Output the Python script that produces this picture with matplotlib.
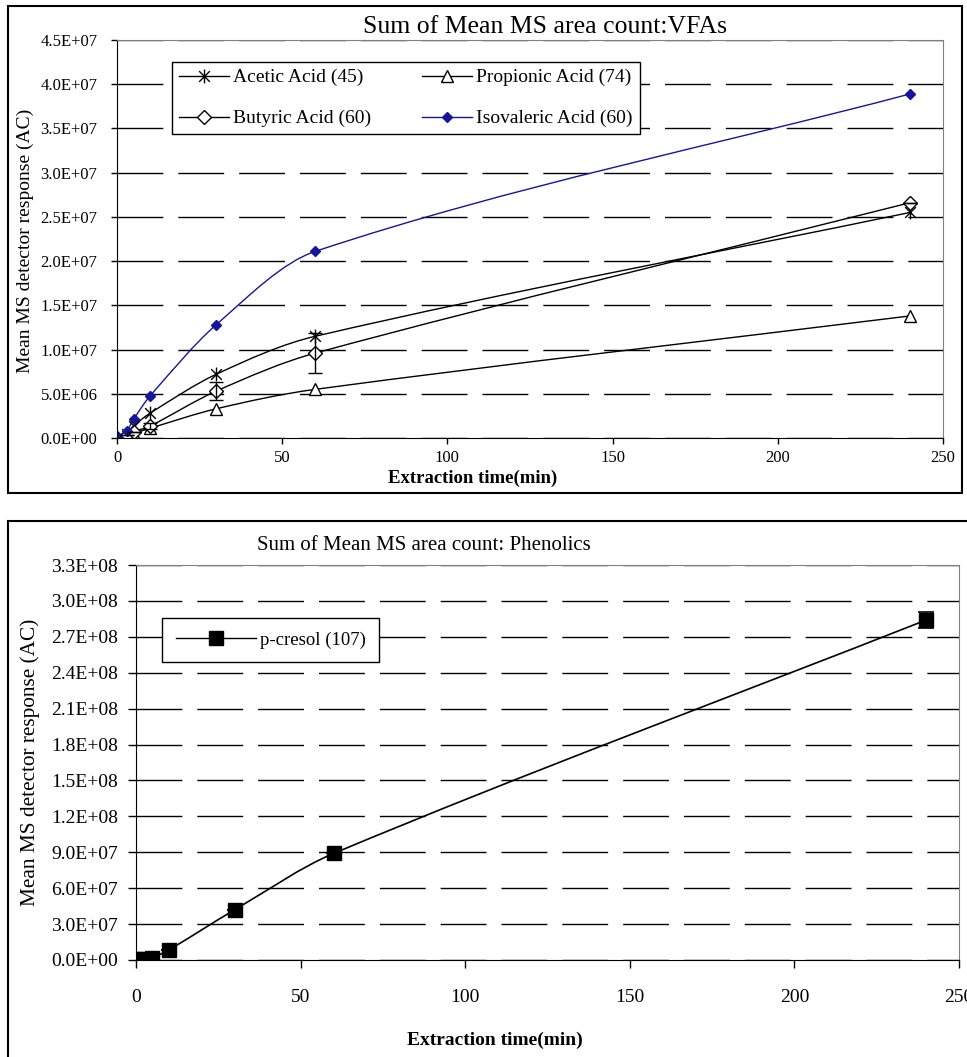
import numpy as np
import matplotlib
matplotlib.use("Agg")
import matplotlib.pyplot as plt
from matplotlib.path import Path
from matplotlib.patches import PathPatch, Rectangle
from matplotlib.lines import Line2D
from matplotlib.ticker import FuncFormatter

plt.rcParams['font.family'] = ['Liberation Serif', 'DejaVu Serif']

# top chart: VFAs
times_vfa = [0, 3, 5, 10, 30, 60, 240]
acetic = [0.0e6, 0.5e6, 1.35e6, 2.8e6, 7.2e6, 11.5e6, 25.5e6]
propionic = [0.0e6, 0.2e6, 0.5e6, 1.1e6, 3.3e6, 5.5e6, 13.8e6]
butyric = [0.0e6, 0.3e6, 0.7e6, 1.35e6, 5.3e6, 9.6e6, 26.6e6]
butyric_err = [0, 0, 0, 0.3e6, 1.0e6, 2.3e6, 0]
isovaleric = [0.1e6, 0.8e6, 2.1e6, 4.75e6, 12.8e6, 21.1e6, 38.9e6]
vfa_labels = ['Acetic Acid (45)', 'Propionic Acid (74)', 'Butyric Acid (60)', 'Isovaleric Acid (60)']

# bottom chart: phenolics
times_ph = [0, 2, 5, 10, 30, 60, 240]
pcresol = [0.5e6, 1.0e6, 2.0e6, 8.5e6, 42e6, 89e6, 284e6]
pcresol_err = [0, 0, 0, 0, 0, 0, 7e6]

xticks = [0, 50, 100, 150, 200, 250]
W, H = 967, 1057


def smooth_path(x, y):
    # excel-like smoothed line as cubic bezier through the points
    x = np.asarray(x, float)
    y = np.asarray(y, float)
    n = len(x)
    m = np.empty(n)
    m[0] = (y[1] - y[0]) / (x[1] - x[0])
    m[-1] = (y[-1] - y[-2]) / (x[-1] - x[-2])
    m[1:-1] = (y[2:] - y[:-2]) / (x[2:] - x[:-2])
    verts = [(x[0], y[0])]
    codes = [Path.MOVETO]
    for i in range(n - 1):
        h = x[i + 1] - x[i]
        verts += [(x[i] + h / 3, y[i] + m[i] * h / 3),
                  (x[i + 1] - h / 3, y[i + 1] - m[i + 1] * h / 3),
                  (x[i + 1], y[i + 1])]
        codes += [Path.CURVE4] * 3
    return Path(verts, codes)


def px_axes(l, t, r, b):
    return [l / W, 1 - b / H, (r - l) / W, (b - t) / H]


def style_axes(ax, fs, ticklen, ypad, xpad):
    ax.set_axisbelow(True)
    ax.yaxis.grid(True, color='black', lw=1, linestyle=(0, (33, 10.8)))
    for s in ['top', 'right']:
        ax.spines[s].set_color('#808080')
    for s in ['left', 'bottom']:
        ax.spines[s].set_color('black')
    ax.tick_params(direction='out', length=ticklen, labelsize=fs, width=1)
    ax.tick_params(axis='y', pad=ypad)
    ax.tick_params(axis='x', pad=xpad)
    ax.yaxis.set_major_formatter(FuncFormatter(lambda v, p: f"{v:.1E}"))


fig = plt.figure(figsize=(W / 100, H / 100), dpi=100)

# panel frames
fig.add_artist(Rectangle((8 / W, 1 - 493 / H), 954 / W, 487 / H, transform=fig.transFigure,
                         fill=False, lw=1.5, ec='black'))
fig.add_artist(Rectangle((8 / W, -0.02), 1.0, 1 - 521 / H + 0.02, transform=fig.transFigure,
                         fill=False, lw=1.5, ec='black', clip_on=False))

# ---- top
ax1 = fig.add_axes(px_axes(117, 40, 943, 438))
ax1.set_xlim(0, 250)
ax1.set_ylim(0, 4.5e7)
ax1.set_xticks(xticks)
ax1.set_yticks(np.arange(0, 4.51e7, 5e6))
style_axes(ax1, 12, 4, 10, 5)

star = Path([(-1, -1), (1, 1), (-1, 1), (1, -1), (0, -1.3), (0, 1.3)],
            [Path.MOVETO, Path.LINETO] * 3)
series = [
    (acetic, 'black', dict(marker=star, ms=10, mfc='black', mec='black', mew=1)),
    (propionic, 'black', dict(marker='^', ms=8, mfc='white', mec='black', mew=1)),
    (butyric, 'black', dict(marker='D', ms=7, mfc='white', mec='black', mew=1)),
    (isovaleric, '#16169c', dict(marker='D', ms=5, mfc='#16169c', mec='#16169c', mew=1)),
]
handles = []
for vals, col, mk in series:
    ax1.add_patch(PathPatch(smooth_path(times_vfa, vals), fill=False, ec=col, lw=1))
    ax1.plot(times_vfa, vals, ls='none', **mk)
    handles.append(Line2D([], [], color=col, lw=1, **mk))
ax1.errorbar(times_vfa, butyric, yerr=butyric_err, fmt='none', ecolor='black',
             elinewidth=1, capsize=5, capthick=1)
# legend fills column-first, so order for rows: acetic/propionic, butyric/isovaleric
order = [0, 2, 1, 3]
leg1 = ax1.legend([handles[i] for i in order], [vfa_labels[i] for i in order], ncol=2,
                  loc='upper left', bbox_to_anchor=(0.0666, 0.9447),
                  fontsize=14, frameon=True, fancybox=False, edgecolor='black', framealpha=1,
                  handlelength=2.6, columnspacing=2.6, borderpad=0.35, labelspacing=1.2,
                  handletextpad=0.2, borderaxespad=0)
leg1.get_frame().set_linewidth(1)

fig.text(545 / W, 1 - 27 / H, 'Sum of Mean MS area count:VFAs', ha='center', va='center',
         fontsize=18.5)
fig.text(473 / W, 1 - 478 / H, 'Extraction time(min)', ha='center', va='center',
         fontsize=13.5, fontweight='bold')
fig.text(25 / W, 1 - 241 / H, 'Mean MS detector response (AC)', ha='center', va='center',
         rotation=90, fontsize=14)

# ---- bottom
ax2 = fig.add_axes(px_axes(136, 565, 959, 960))
ax2.set_xlim(0, 250)
ax2.set_ylim(0, 3.3e8)
ax2.set_xticks(xticks)
ax2.set_yticks(np.arange(0, 3.31e8, 3e7))
style_axes(ax2, 14, 6, 7, 15)

ax2.add_patch(PathPatch(smooth_path(times_ph, pcresol), fill=False, ec='black', lw=1.2))
sq = dict(marker='s', ms=9.5, mfc='black', mec='black')
ax2.plot(times_ph, pcresol, ls='none', **sq)
ax2.errorbar(times_ph, pcresol, yerr=pcresol_err, fmt='none', ecolor='black',
             elinewidth=1.2, capsize=5.5, capthick=1.2)
leg2 = ax2.legend([Line2D([], [], color='black', lw=1, **sq)], ['p-cresol (107)'],
                  loc='upper left', bbox_to_anchor=(0.0316, 0.866), fontsize=13.5,
                  frameon=True, fancybox=False, edgecolor='black', framealpha=1,
                  handlelength=4.3, borderpad=0.72, handletextpad=0.2, borderaxespad=0)
leg2.get_frame().set_linewidth(1)

fig.text(424 / W, 1 - 545 / H, 'Sum of Mean MS area count: Phenolics', ha='center', va='center',
         fontsize=15)
fig.text(495 / W, 1 - 1040 / H, 'Extraction time(min)', ha='center', va='center',
         fontsize=14, fontweight='bold')
fig.text(30 / W, 1 - 762 / H, 'Mean MS detector response (AC)', ha='center', va='center',
         rotation=90, fontsize=15.3)

fig.savefig('out.png', dpi=100)
